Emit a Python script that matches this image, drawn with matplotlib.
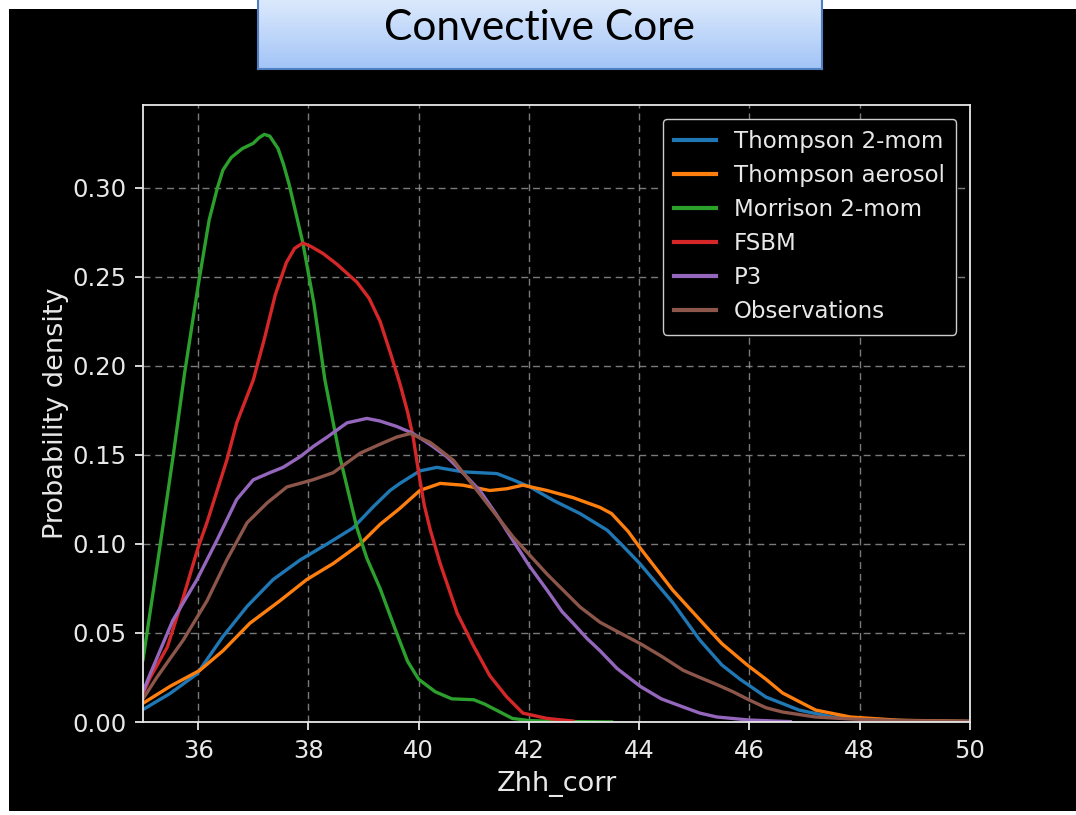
import numpy as np
import matplotlib
matplotlib.use("Agg")
import matplotlib.pyplot as plt
from matplotlib.patches import Rectangle

# KDE curves of corrected Zhh in the convective core, per microphysics scheme
thompson_x = [35.0, 35.49, 35.98, 36.45, 36.89, 37.36, 37.85, 38.34, 38.81, 39.18, 39.48, 39.66,
              40.02, 40.33, 40.8, 41.42, 41.71, 42.02, 42.44, 42.93, 43.42, 43.7, 44.01, 44.61,
              45.1, 45.5, 45.83, 46.3, 46.9, 47.5, 48.1, 49.0, 50.0]
thompson_y = [0.007, 0.016, 0.027, 0.048, 0.065, 0.080, 0.091, 0.100, 0.109, 0.121, 0.130, 0.134,
              0.141, 0.143, 0.1405, 0.1395, 0.136, 0.132, 0.1245, 0.117, 0.1077, 0.099, 0.089, 0.067,
              0.046, 0.032, 0.024, 0.014, 0.0067, 0.0028, 0.0015, 0.0006, 0.0003]

aerosol_x = [35.0, 35.49, 36.03, 36.45, 36.94, 37.48, 37.97, 38.45, 38.94, 39.3, 39.66, 40.02,
             40.39, 40.8, 41.29, 41.6, 41.89, 42.33, 42.8, 43.29, 43.5, 43.8, 44.01, 44.61, 45.23,
             45.5, 45.96, 46.3, 46.6, 47.2, 47.83, 48.7, 50.0]
aerosol_y = [0.0105, 0.020, 0.029, 0.040, 0.0555, 0.068, 0.080, 0.089, 0.100, 0.111, 0.120, 0.130,
             0.134, 0.133, 0.130, 0.131, 0.133, 0.130, 0.126, 0.1205, 0.117, 0.107, 0.098, 0.074,
             0.053, 0.044, 0.032, 0.024, 0.0163, 0.0067, 0.0028, 0.001, 0.0003]

morrison_x = [35.0, 35.3, 35.55, 35.75, 36.0, 36.2, 36.35, 36.45, 36.6, 36.8, 37.0, 37.1, 37.2,
              37.3, 37.45, 37.55, 37.65, 37.9, 38.1, 38.3, 38.57, 38.88, 39.06, 39.3, 39.6, 39.8,
              40.0, 40.3, 40.6, 41.0, 41.2, 41.45, 41.7, 42.0, 42.5, 43.5]
morrison_y = [0.035, 0.097, 0.150, 0.195, 0.245, 0.282, 0.300, 0.310, 0.317, 0.322, 0.325, 0.328,
              0.330, 0.329, 0.322, 0.313, 0.302, 0.269, 0.235, 0.192, 0.149, 0.109, 0.092, 0.075,
              0.050, 0.034, 0.024, 0.017, 0.013, 0.0125, 0.010, 0.006, 0.002, 0.0008, 0.0003, 0.0]

fsbm_x = [35.0, 35.13, 35.44, 35.73, 36.0, 36.16, 36.52, 36.7, 37.0, 37.2, 37.4, 37.6, 37.75,
          37.9, 38.05, 38.27, 38.52, 38.88, 39.1, 39.3, 39.5, 39.66, 39.8, 39.9, 40.0, 40.1,
          40.21, 40.39, 40.7, 40.99, 41.29, 41.6, 41.89, 42.33, 42.8]
fsbm_y = [0.016, 0.025, 0.042, 0.070, 0.098, 0.112, 0.147, 0.168, 0.192, 0.215, 0.240, 0.258, 0.266,
          0.269, 0.267, 0.263, 0.257, 0.247, 0.238, 0.225, 0.206, 0.190, 0.174, 0.160, 0.140, 0.122,
          0.108, 0.089, 0.061, 0.043, 0.026, 0.014, 0.005, 0.002, 0.0005]

p3_x = [35.0, 35.13, 35.54, 35.98, 36.34, 36.7, 37.0, 37.3, 37.54, 37.85, 38.1, 38.34, 38.7,
        39.06, 39.3, 39.6, 39.9, 40.2, 40.51, 40.8, 41.11, 41.4, 41.71, 42.0, 42.33, 42.6,
        42.8, 43.05, 43.29, 43.6, 44.02, 44.4, 44.8, 45.1, 45.41, 46.0, 46.74]
p3_y = [0.017, 0.027, 0.057, 0.080, 0.102, 0.125, 0.136, 0.140, 0.143, 0.149, 0.155, 0.160, 0.168,
        0.1705, 0.169, 0.166, 0.162, 0.156, 0.149, 0.140, 0.130, 0.117, 0.102, 0.088, 0.074, 0.062,
        0.0555, 0.047, 0.040, 0.030, 0.020, 0.013, 0.0084, 0.005, 0.0028, 0.0011, 0.0002]

obs_x = [35.0, 35.25, 35.5, 35.73, 36.16, 36.52, 36.89, 37.25, 37.61, 38.08, 38.45, 38.94, 39.3,
         39.6, 39.85, 40.21, 40.63, 41.11, 41.71, 42.33, 42.93, 43.29, 43.53, 44.02, 44.4, 44.8,
         45.1, 45.41, 45.7, 46.0, 46.3, 46.6, 47.2, 47.83, 48.7, 50.0]
obs_y = [0.013, 0.025, 0.036, 0.046, 0.068, 0.091, 0.112, 0.123, 0.132, 0.136, 0.140, 0.151, 0.156,
         0.160, 0.162, 0.157, 0.147, 0.128, 0.104, 0.083, 0.0645, 0.056, 0.052, 0.044, 0.037, 0.029,
         0.025, 0.021, 0.017, 0.0123, 0.008, 0.0056, 0.0028, 0.0017, 0.0008, 0.0004]

series = [
    ("Thompson 2-mom", thompson_x, thompson_y, "tab:blue"),
    ("Thompson aerosol", aerosol_x, aerosol_y, "tab:orange"),
    ("Morrison 2-mom", morrison_x, morrison_y, "tab:green"),
    ("FSBM", fsbm_x, fsbm_y, "tab:red"),
    ("P3", p3_x, p3_y, "tab:purple"),
    ("Observations", obs_x, obs_y, "tab:brown"),
]

W, H = 1076, 815
fig = plt.figure(figsize=(W / 100, H / 100), dpi=100, facecolor="white")

# black slide panel, kept behind everything else
fig.patches.append(Rectangle((9 / W, 4 / H), 1 - 9 / W, (811 - 9) / H,
                             transform=fig.transFigure, facecolor="black",
                             edgecolor="none", zorder=-10))

ax = fig.add_axes([143 / W, 1 - 722 / H, 827 / W, 617 / H])
ax.set_facecolor("black")
for name, xs, ys, c in series:
    ax.plot(xs, ys, color=c, lw=2.4, label=name, solid_joinstyle="round")

ax.set_xlim(35, 50)
ax.set_ylim(0, 0.3465)
ax.set_xticks(np.arange(36, 51, 2))
ax.set_yticks(np.arange(0, 0.31, 0.05))
ax.yaxis.set_major_formatter(plt.FormatStrFormatter("%.2f"))
ax.grid(True, color="#9a9a9a", linestyle=(0, (5, 3.5)), lw=1.0, alpha=0.8)
for s in ax.spines.values():
    s.set_color("#e8e8e8"); s.set_linewidth(1.3)
ax.tick_params(colors="#e8e8e8", labelsize=17.5, length=6, width=1.3, pad=6)
ax.set_xlabel("Zhh_corr", color="#e8e8e8", fontsize=19.5, labelpad=6)
ax.set_ylabel("Probability density", color="#e8e8e8", fontsize=19.5, labelpad=2)

leg = ax.legend(loc="upper right", fontsize=16.5, facecolor="black", edgecolor="#cccccc",
                framealpha=1, handlelength=1.8, borderpad=0.5, labelspacing=0.48,
                borderaxespad=0.6)
for t in leg.get_texts():
    t.set_color("#e8e8e8")
for h in leg.get_lines():
    h.set_linewidth(3)

# title banner with a light-blue gradient
tax = fig.add_axes([258 / W, 1 - 69 / H, (822 - 258) / W, 72 / H])
grad = np.linspace(0, 1, 64).reshape(-1, 1)
top, bot = np.array([0.87, 0.92, 0.99]), np.array([0.64, 0.77, 0.97])
tax.imshow(top + (bot - top) * grad[..., None], aspect="auto", extent=[0, 1, 0, 1])
tax.set_xticks([]); tax.set_yticks([])
for s in tax.spines.values():
    s.set_color("#4f7fc0"); s.set_linewidth(1.5)
tax.text(0.5, 0.57, "Convective Core", ha="center", va="center", fontsize=30.5,
         family=["Lato", "DejaVu Sans"], color="black")

fig.savefig("out.png", dpi=100, facecolor="white")
